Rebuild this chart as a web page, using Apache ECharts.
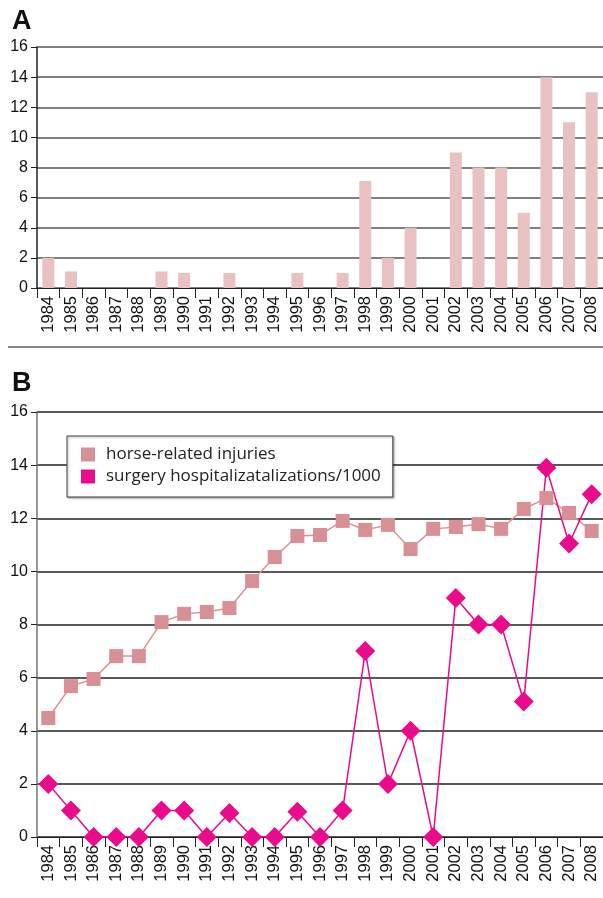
<!DOCTYPE html>
<html><head><meta charset="utf-8">
<script src="https://cdn.jsdelivr.net/npm/echarts@6/dist/echarts.min.js"></script>
<style>html,body{margin:0;padding:0;background:#fff}#c{width:603px;height:898px}</style>
</head><body><div id="c"></div>
<script>
const years = ['1984','1985','1986','1987','1988','1989','1990','1991','1992','1993','1994','1995','1996','1997','1998','1999','2000','2001','2002','2003','2004','2005','2006','2007','2008'];
const barValues = [2,1.1,0,0,0,1.1,1,0,1,0,0,1,0,1,7.1,2,4,0,9,8,8,5,14,11,13];
const horseInjuries = [4.48,5.68,5.95,6.81,6.81,8.09,8.4,8.47,8.62,9.64,10.54,11.33,11.37,11.9,11.56,11.75,10.84,11.6,11.67,11.78,11.6,12.35,12.76,12.2,11.52];
const surgeryHosp = [2,1,0,0,0,1,1,0,0.9,0,0,0.95,0,1,7,2,4,0,9,8,8,5.1,13.9,11.05,12.9];
const yTicks = [0,2,4,6,8,10,12,14,16];

const font = '"Liberation Sans",Arial,sans-serif';
const narrow = '"Liberation Sans Narrow","Arial Narrow","Liberation Sans",sans-serif';
const chart = echarts.init(document.getElementById('c'));
function xAxis(gi){
  return {type:'category', gridIndex:gi, data:years, boundaryGap:true,
    axisLine:{lineStyle:{color:'#222',width:1}},
    axisTick:{show:true, length:10, alignWithLabel:false, lineStyle:{color:'#222'}},
    axisLabel:{rotate:90, fontSize:16.5, color:'#111', fontFamily:narrow, margin:8, interval:0}};
}
function yAxis(gi, axisColor, gridColor){
  return {type:'value', gridIndex:gi, min:0, max:16, interval:2,
    axisLine:{show:true, lineStyle:{color:axisColor, width:1.5}},
    axisTick:{show:true, length:6, lineStyle:{color:'#222'}},
    axisLabel:{fontSize:16, color:'#111', fontFamily:font, margin:9},
    splitLine:{show:true, lineStyle:{color:gridColor, width:1.5}}};
}
chart.setOption({
  animation:false,
  title:[
    {text:'A', left:7, top:3, textStyle:{fontSize:27, fontWeight:'bold', color:'#111', fontFamily:font}},
    {text:'B', left:7, top:365, textStyle:{fontSize:27, fontWeight:'bold', color:'#111', fontFamily:font}}
  ],
  grid:[
    {left:37, right:0, top:47, height:241},
    {left:37, right:0, top:412, height:425}
  ],
  xAxis:[xAxis(0), xAxis(1)],
  yAxis:[yAxis(0,'#222','#555'), yAxis(1,'#777','#222')],
  legend:{
    data:['horse-related injuries','surgery hospitalizatalizations/1000'],
    left:67, top:436, orient:'vertical', icon:'rect', itemWidth:14, itemHeight:14, itemGap:5,
    padding:[10,12,12,14], width:326,
    borderColor:'#444', borderWidth:1, backgroundColor:'#fff',
    shadowColor:'rgba(0,0,0,0.35)', shadowOffsetX:1, shadowOffsetY:1, shadowBlur:2,
    textStyle:{fontSize:17, color:'#222', fontFamily:'"Open Sans","Noto Sans",sans-serif', padding:[0,0,0,6]}
  },
  graphic:[{type:'line', shape:{x1:8,y1:347,x2:603,y2:347}, style:{stroke:'#888', lineWidth:2}}],
  series:[
    {type:'bar', xAxisIndex:0, yAxisIndex:0, data:barValues, barWidth:12, itemStyle:{color:'#e8c1c3'}},
    {name:'horse-related injuries', type:'line', xAxisIndex:1, yAxisIndex:1, data:horseInjuries,
      symbol:'rect', symbolSize:14, lineStyle:{color:'#dc9096', width:1.5}, itemStyle:{color:'#d98f96'}},
    {name:'surgery hospitalizatalizations/1000', type:'line', xAxisIndex:1, yAxisIndex:1, data:surgeryHosp,
      symbol:'diamond', symbolSize:[20,20], lineStyle:{color:'#ea0b8c', width:1.5}, itemStyle:{color:'#ea0b8c'}, z:3}
  ]
});
</script></body></html>
